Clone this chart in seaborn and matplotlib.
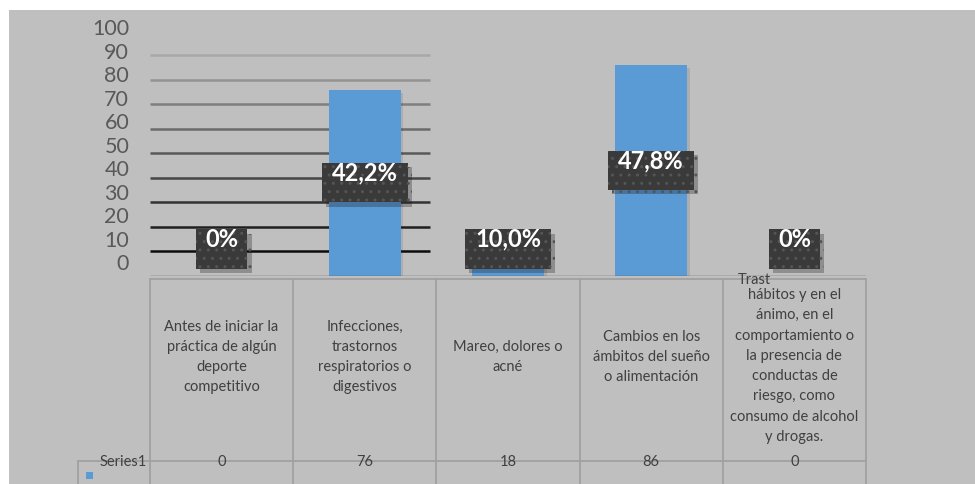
import matplotlib
matplotlib.use("Agg")
import matplotlib.pyplot as plt
import matplotlib.transforms as mtransforms
import matplotlib.patheffects as pe
from matplotlib.patches import Rectangle
from matplotlib.lines import Line2D
import seaborn as sns

# datos del gráfico
categorias = [
    "Antes de iniciar la\npráctica de algún\ndeporte\ncompetitivo",
    "Infecciones,\ntrastornos\nrespiratorios o\ndigestivos",
    "Mareo, dolores o\nacné",
    "Cambios en los\námbitos del sueño\no alimentación",
    "hábitos y en el\nánimo, en el\ncomportamiento o\nla presencia de\nconductas de\nriesgo, como\nconsumo de alcohol\ny drogas.",
]
valores = [0, 76, 18, 86, 0]
etiquetas = ["0%", "42,2%", "10,0%", "47,8%", "0%"]
serie = "Series1"
ticks_y = [0, 10, 20, 30, 40, 50, 60, 70, 80, 90, 100]

GRIS = "#bfbfbf"
AZUL = "#5b9bd5"
TXT = "#404040"

sns.set_theme(style="white")
plt.rcParams["font.family"] = ["Lato", "DejaVu Sans"]

fig = plt.figure(figsize=(9.75, 4.85), dpi=100, facecolor=GRIS)
# franja blanca arriba y a la izquierda
fig.add_artist(Rectangle((0, 1 - 11 / 485), 1, 11 / 485, transform=fig.transFigure,
                         facecolor="white", edgecolor="none"))
fig.add_artist(Rectangle((0, 0), 9 / 975, 1, transform=fig.transFigure,
                         facecolor="white", edgecolor="none"))

ax = fig.add_axes([150 / 975, 1 - 277 / 485, 716 / 975, 250 / 485])
ax.set_facecolor("none")

sns.barplot(x=list(range(len(valores))), y=valores, color=AZUL, width=0.5,
            saturation=1, linewidth=0, edgecolor="none", ax=ax, zorder=3)
for p in ax.patches:
    p.set_path_effects([pe.SimplePatchShadow(offset=(2, -2), alpha=0.12), pe.Normal()])

ax.set_xlim(-0.5, 4.5)
ax.set_ylim(0, 100)
sns.despine(ax=ax, left=True, bottom=True)
ax.set_xticks([])

# etiquetas del eje y desplazadas (como en el original)
ax.set_yticks([6 + 0.96 * v for v in ticks_y])
ax.set_yticklabels([str(v) for v in ticks_y], fontsize=15.5, color="#595959")
ax.tick_params(axis="y", length=0, pad=15)

# líneas de división sólo en la parte izquierda, cada vez más oscuras
tonos = ["#0d0d0d", "#1f1f1f", "#333333", "#474747", "#595959", "#6b6b6b",
         "#7f7f7f", "#939393", "#a8a8a8"]
for v, c in zip(ticks_y[1:-1], tonos):
    ax.hlines(v, -0.5, 1.455, color=c, lw=1.8, zorder=2)
ax.axhline(0, color="#595959", lw=1.0, zorder=4)

# etiquetas de datos en cajas oscuras
for i, (v, lab) in enumerate(zip(valores, etiquetas)):
    yc = max(v / 2, 11)
    w = 0.2 + 0.08 * len(lab)
    r = Rectangle((i - w / 2, yc - 8), w, 16, facecolor="#3a3a3a", edgecolor="#555555",
                  lw=0, hatch="..", zorder=5)
    r.set_path_effects([pe.SimplePatchShadow(offset=(3, -3), alpha=0.28), pe.Normal()])
    ax.add_patch(r)
    ax.text(i, yc + 4.5, lab, ha="center", va="center", color="white",
            fontsize=17, fontweight="bold", zorder=6)

# tabla de datos
tr = mtransforms.blended_transform_factory(ax.transData, ax.transAxes)


def fy(py):
    return (277 - py) / 250


lc = "#a0a0a0"
ax.add_line(Line2D([-0.5, 4.5], [fy(280), fy(280)], transform=tr, color=lc, lw=1.3,
                   clip_on=False))
ax.add_line(Line2D([-1.0, 4.5], [fy(462), fy(462)], transform=tr, color=lc, lw=1.3,
                   clip_on=False))
ax.add_line(Line2D([-1.0, -1.0], [fy(462), fy(486)], transform=tr, color=lc, lw=1.3,
                   clip_on=False))
for b in range(len(valores) + 1):
    ax.add_line(Line2D([b - 0.5, b - 0.5], [fy(280), fy(486)], transform=tr, color=lc,
                       lw=1.3, clip_on=False))

for i, (cat, v) in enumerate(zip(categorias, valores)):
    yc = 366 if i == len(categorias) - 1 else 357
    ax.text(i, fy(yc), cat, transform=tr, ha="center", va="center", fontsize=10.5,
            color=TXT, linespacing=1.57, clip_on=False)
    ax.text(i, fy(462), str(v), transform=tr, ha="center", va="center", fontsize=10.5,
            color=TXT, clip_on=False)
# resto del texto cortado de la última categoría
ax.text(3.72, fy(280), "Trast", transform=tr, ha="center", va="center", fontsize=10.5,
        color=TXT, clip_on=False)

ax.text(-0.52, fy(462), serie, transform=tr, ha="right", va="center", fontsize=10.5,
        color=TXT, clip_on=False)
ax.add_patch(Rectangle((-0.947, fy(480)), 0.05, 7 / 250, transform=tr, facecolor=AZUL,
                       edgecolor="none", clip_on=False))

fig.savefig("out.png", dpi=100, facecolor=GRIS)
